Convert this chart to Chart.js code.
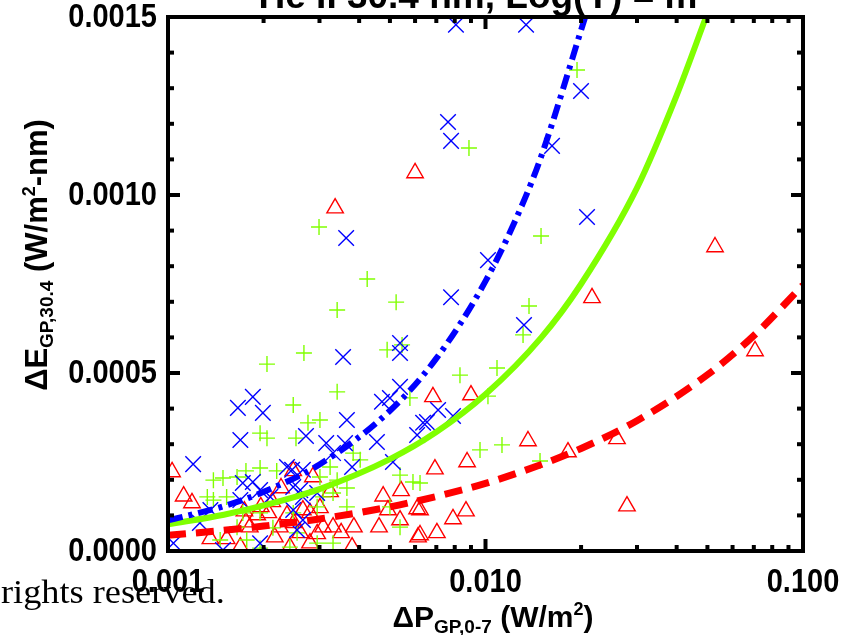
<!DOCTYPE html>
<html>
<head>
<meta charset="utf-8">
<script src="https://cdn.jsdelivr.net/npm/chart.js@4"></script>
<style>
  html, body { margin: 0; padding: 0; background: #fff; }
  canvas { display: block; }
</style>
</head>
<body>
<canvas id="fitChart" width="845" height="635"></canvas>
<script>
/* tick labels */
const X_TICKS = [0.001, 0.01, 0.1];
const Y_TICKS = [0, 0.0005, 0.001, 0.0015];

/* scatter: blue crosses */
const blueX = [0.00807,0.01342,0.00762,0.00779,0.01999,0.0162,0.00364,0.01018,0.02088,0.00356,0.00779,0.00538,0.00538,0.01322,0.00538,0.00185,0.00166,0.00199,0.00169,0.0012,0.00272,0.00366,0.00315,0.00361,0.00455,0.00472,0.005,0.00654,0.0079,0.00709,0.00609,0.00511,0.0038,0.00331,0.00246,0.00185,0.00195,0.00261,0.00295,0.00126,0.00136,0.00195,0.00149,0.00104,0.00169,0.00636,0.00266,0.00248,0.00266,0.00248,0.00266,0.00237,0.0021,0.00255,0.00172];
const blueY = [0.001478,0.001478,0.001205,0.001152,0.001292,0.001138,0.000879,0.000817,0.000938,0.000545,0.000713,0.000584,0.000556,0.000635,0.000461,0.000433,0.000402,0.000388,0.000312,0.000244,0.000323,0.000368,0.000303,0.000303,0.000306,0.000419,0.00043,0.000362,0.000379,0.000396,0.000326,0.00025,0.000236,0.000275,0.000228,0.000194,0.000171,0.000171,0.000163,0.000079,0.000115,0.000022,0.000003,0.000022,0.000143,0.00036,0.000228,0.00018,0.000152,0.000115,0.000087,0.000236,0.000152,0.000059,0.000191];

/* scatter: green pluses */
const greenX = [0.00887,0.01942,0.00299,0.00424,0.00341,0.00268,0.00205,0.00523,0.01496,0.01371,0.01313,0.00546,0.0049,0.01087,0.00831,0.01018,0.01127,0.01485,0.00961,0.00341,0.00248,0.00301,0.00276,0.00195,0.00205,0.00253,0.00578,0.00383,0.00403,0.00538,0.00591,0.00538,0.00149,0.00139,0.00165,0.00195,0.00176,0.0022,0.00301,0.00341,0.00366,0.00331,0.00366,0.00295,0.00153,0.00139,0.00195,0.00248,0.00214,0.00165,0.00146,0.00177,0.00195,0.00295,0.00331,0.00324,0.005,0.00308,0.00255,0.00242,0.00622,0.00172,0.00133];
const greenY = [0.001132,0.001351,0.00091,0.000764,0.000677,0.000556,0.000525,0.000699,0.000885,0.000688,0.000607,0.000579,0.000565,0.000514,0.000494,0.000435,0.000298,0.000253,0.000284,0.000447,0.00041,0.000368,0.00036,0.000331,0.000317,0.000317,0.00043,0.000275,0.000256,0.000213,0.000194,0.000067,0.000205,0.000199,0.000208,0.000233,0.000225,0.000225,0.000208,0.000199,0.000177,0.000163,0.000124,0.000124,0.000152,0.000143,0.000107,0.000107,0.000065,0.000067,0.000031,0.000031,0.000008,0.000022,0.000022,0.000236,0.000124,0.000152,0.000051,0.000011,0.000191,0.000107,0.000152];

/* scatter: red triangles */
const redX = [0.006,0.00336,0.05283,0.02165,0.07061,0.01361,0.01819,0.02595,0.0279,0.00683,0.009,0.00693,0.00875,0.00103,0.00112,0.00119,0.00324,0.00286,0.00248,0.00227,0.00476,0.00542,0.00609,0.00493,0.00538,0.0079,0.00868,0.00462,0.00613,0.00703,0.00385,0.00351,0.00136,0.00153,0.00169,0.00176,0.00174,0.00196,0.00213,0.00207,0.00237,0.00249,0.0028,0.00301,0.00295,0.00261,0.00242,0.0038,0.00225,0.00181,0.00622,0.00622,0.00217,0.00191,0.0028,0.00308,0.00331,0.00266];
const redY = [0.001062,0.000963,0.000854,0.000711,0.000562,0.000309,0.000278,0.000315,0.000126,0.000433,0.000438,0.00023,0.00025,0.000222,0.000154,0.000135,0.000166,0.000208,0.000225,0.000177,0.000154,0.000169,0.000118,0.000115,0.000087,0.00009,0.000112,0.000067,0.000039,0.000051,0.000067,0.000051,0.000034,0.000034,0.000011,0.000081,0.000112,0.000124,0.000138,0.000107,0.000101,0.000079,0.000107,0.000121,0.000048,0.000051,0.000011,0.000011,0.000067,0.000067,0.000115,0.000045,0.000039,0.000101,0.000022,0.000067,0.000067,0.000115];

/* fit curves */
const fitBlueX  = [0.001, 0.0015, 0.002, 0.003, 0.005, 0.007, 0.01, 0.013, 0.015, 0.0206];
const fitBlueY  = [0.000086, 0.000126, 0.000166, 0.000243, 0.000394, 0.000541, 0.000758, 0.000969, 0.00111, 0.0015];
const fitGreenX = [0.001, 0.0015, 0.002, 0.003, 0.005, 0.007, 0.01, 0.015, 0.02, 0.03, 0.04, 0.0495];
const fitGreenY = [0.000075, 0.000102, 0.000128, 0.000174, 0.000258, 0.000334, 0.00044, 0.0006, 0.00075, 0.00102, 0.00128, 0.0015];
const fitRedX   = [0.001, 0.0015, 0.002, 0.003, 0.005, 0.007, 0.01, 0.015, 0.02, 0.03, 0.05, 0.07, 0.1];
const fitRedY   = [0.000044, 0.000058, 0.00007, 0.00009, 0.000124, 0.000153, 0.00019, 0.000243, 0.000288, 0.000366, 0.000495, 0.000605, 0.000747];

const COLORS = { blue: '#0000FF', green: '#80FF00', red: '#FF0000' };
const SANS  = '"Liberation Sans", Arial, sans-serif';
const SERIF = '"Liberation Serif", "Times New Roman", serif';

const pts = (xs, ys) => xs.map((x, i) => ({ x, y: ys[i] }));

/* rich text with sub/superscripts: parts = [[text, size, dy], ...] */
function drawRich(ctx, parts, cx, baseY) {
  let total = 0;
  parts.forEach(p => { ctx.font = `bold ${p[1]}px ${SANS}`; total += ctx.measureText(p[0]).width; });
  let x = cx - total / 2;
  parts.forEach(p => {
    ctx.font = `bold ${p[1]}px ${SANS}`;
    ctx.fillText(p[0], x, baseY + p[2]);
    x += ctx.measureText(p[0]).width;
  });
}

/* tall, slightly stretched tick label like the IDL output */
function tickLabel(ctx, text, x, y, align) {
  ctx.save();
  ctx.translate(x, y);
  ctx.scale(1, 1.15);
  ctx.font = `bold 29px ${SANS}`;
  ctx.textAlign = align;
  ctx.textBaseline = 'middle';
  ctx.fillText(text, 0, 0);
  ctx.restore();
}

/* IDL style frame with inward ticks, titles, overlay text */
const framePlugin = {
  id: 'frame',
  afterDraw(chart) {
    const { ctx, chartArea: a, scales: { x, y } } = chart;
    ctx.save();
    ctx.strokeStyle = '#000';
    ctx.fillStyle = '#000';
    ctx.lineCap = 'butt';

    ctx.lineWidth = 4;
    ctx.strokeRect(a.left, a.top, a.right - a.left, a.bottom - a.top);

    const tick = (x1, y1, x2, y2) => { ctx.beginPath(); ctx.moveTo(x1, y1); ctx.lineTo(x2, y2); ctx.stroke(); };

    // y ticks: major every 0.0005, minor every 0.0001
    for (let i = 0; i <= 15; i++) {
      const py = y.getPixelForValue(i * 0.0001);
      const len = i % 5 === 0 ? 12 : 6;
      tick(a.left, py, a.left + len, py);
      tick(a.right, py, a.right - len, py);
    }
    // x ticks: log decades
    for (let d = -3; d <= -1; d++) {
      for (let k = 1; k <= 9; k++) {
        const v = k * Math.pow(10, d);
        if (v > 0.1 + 1e-9) break;
        const px = x.getPixelForValue(v);
        const len = k === 1 ? 12 : 6;
        tick(px, a.bottom, px, a.bottom - len);
        tick(px, a.top, px, a.top + len);
      }
    }

    // tick labels
    X_TICKS.forEach(v => tickLabel(ctx, v.toFixed(3), x.getPixelForValue(v), 583, 'center'));
    Y_TICKS.forEach(v => tickLabel(ctx, v.toFixed(4), 157, y.getPixelForValue(v) + 1, 'right'));

    // title (mostly cut off at the top edge)
    ctx.textBaseline = 'alphabetic';
    ctx.textAlign = 'center';
    ctx.font = `bold 37px ${SANS}`;
    ctx.fillText('He II 30.4 nm, Log(Y) = m', 478, 8);

    // x axis title
    ctx.textAlign = 'left';
    drawRich(ctx, [['\u0394P', 30, 0], ['GP,0-7', 19, 6], [' (W/m', 30, 0], ['2', 18, -12], [')', 30, 0]], 493, 627);

    // y axis title (rotated)
    ctx.save();
    ctx.translate(47, 255);
    ctx.rotate(-Math.PI / 2);
    drawRich(ctx, [['\u0394E', 31, 0], ['GP,30.4', 19, 6], [' (W/m', 31, 0], ['2', 18, -12], ['-nm)', 31, 0]], 0, 0);
    ctx.restore();

    // overlay text from the source page
    ctx.save();
    ctx.translate(1, 603);
    ctx.scale(1.1, 1);
    ctx.font = `33px ${SERIF}`;
    ctx.textAlign = 'left';
    ctx.fillText('rights reserved.', 0, 0);
    ctx.restore();

    ctx.restore();
  },
};

/* pin the plot box: no label overflow padding */
const noPad = s => { s.paddingLeft = 0; s.paddingRight = 0; s.paddingTop = 0; s.paddingBottom = 0; };

new Chart(document.getElementById('fitChart'), {
  type: 'scatter',
  data: {
    datasets: [
      { data: pts(fitBlueX, fitBlueY), showLine: true, borderColor: COLORS.blue, borderWidth: 6,
        borderDash: [15, 6, 4, 6], pointRadius: 0, cubicInterpolationMode: 'monotone', order: 0 },
      { data: pts(fitGreenX, fitGreenY), showLine: true, borderColor: COLORS.green, borderWidth: 6,
        pointRadius: 0, cubicInterpolationMode: 'monotone', order: 0 },
      { data: pts(fitRedX, fitRedY), showLine: true, borderColor: COLORS.red, borderWidth: 7,
        borderDash: [18, 10], pointRadius: 0, cubicInterpolationMode: 'monotone', order: 0 },
      { data: pts(blueX, blueY), pointStyle: 'crossRot', pointRadius: 11, pointBorderWidth: 1.4,
        borderColor: COLORS.blue, backgroundColor: 'transparent', order: 1 },
      { data: pts(greenX, greenY), pointStyle: 'cross', pointRadius: 8, pointBorderWidth: 1.4,
        borderColor: COLORS.green, backgroundColor: 'transparent', order: 2 },
      { data: pts(redX, redY), pointStyle: 'triangle', pointRadius: 9.5, pointBorderWidth: 1.4,
        borderColor: COLORS.red, backgroundColor: 'transparent', order: 3 },
    ],
  },
  options: {
    responsive: false,
    animation: false,
    devicePixelRatio: 1,
    layout: { padding: { top: 17, right: 42, left: 0, bottom: 0 } },
    plugins: { legend: { display: false }, tooltip: { enabled: false } },
    scales: {
      x: {
        type: 'logarithmic',
        min: 0.001, max: 0.1,
        afterBuildTicks: s => { s.ticks = X_TICKS.map(v => ({ value: v })); },
        afterFit: s => { s.height = 84; noPad(s); },
        ticks: { display: false },
        grid: { display: false, drawTicks: false },
        border: { display: false },
      },
      y: {
        min: 0, max: 0.0015,
        afterBuildTicks: s => { s.ticks = Y_TICKS.map(v => ({ value: v })); },
        afterFit: s => { s.width = 168; noPad(s); },
        ticks: { display: false },
        grid: { display: false, drawTicks: false },
        border: { display: false },
      },
    },
  },
  plugins: [framePlugin],
});
</script>
</body>
</html>
